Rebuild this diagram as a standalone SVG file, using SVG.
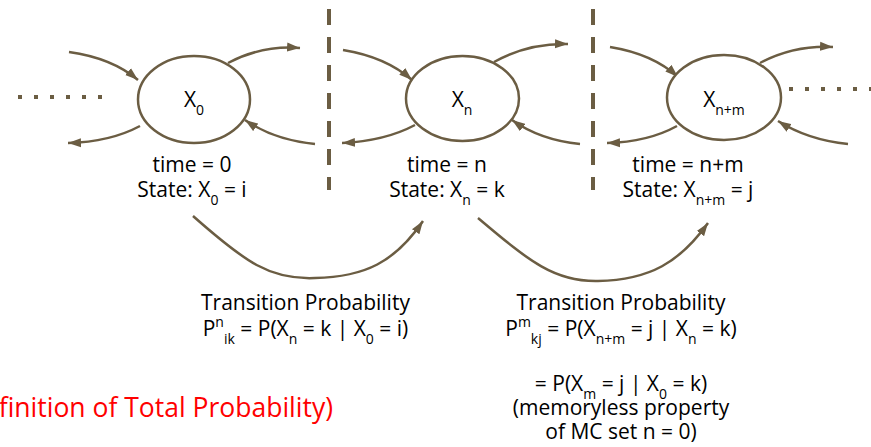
<svg xmlns="http://www.w3.org/2000/svg" width="871" height="447" viewBox="0 0 871 447">
<defs>
<marker id="ah" markerUnits="userSpaceOnUse" markerWidth="14" markerHeight="10" refX="13" refY="5" orient="auto">
<path d="M0,0.5 L13,5 L0,9.5 z" fill="#6b5d43"/>
</marker>
<style>
.ln{fill:none;stroke:#6b5d43;stroke-width:2.5}
.ar{fill:none;stroke:#6b5d43;stroke-width:2.5;marker-end:url(#ah)}
.nd{fill:#fff;stroke:#6b5d43;stroke-width:2.5}
.dash{fill:none;stroke:#6b5d43;stroke-width:4;stroke-dasharray:16 12}
.dot{fill:none;stroke:#6b5d43;stroke-width:4;stroke-dasharray:4 12}
text{font-family:"Open Sans","Noto Sans","Liberation Sans",sans-serif;font-size:21px;fill:#000;text-anchor:middle}
.s{font-size:14px}
.red{fill:#ff0000;font-size:26.5px;text-anchor:end}
</style>
</defs>
<rect width="871" height="447" fill="#fff"/>

<g id="separators">
<path class="dash" d="M329,9 V190"/>
<path class="dash" d="M593,9 V190"/>
<path class="dot" d="M18,97 H106"/>
<path class="dot" d="M789,89 H875"/>
</g>

<g id="connectors">
<path class="ar" d="M69,52 Q112,58 138,80"/>
<path class="ar" d="M228,63 Q262,45 300,48"/>
<path class="ar" d="M140,126 Q110,142 68,143"/>
<path class="ar" d="M315,144 Q274,140 245,120"/>

<path class="ar" d="M343,50 Q386,57 412,80"/>
<path class="ar" d="M494,62 Q528,43 568,44"/>
<path class="ar" d="M415,125 Q385,141 342,143"/>
<path class="ar" d="M580,144 Q540,140 512,120"/>

<path class="ar" d="M610,47 Q653,54 678,77"/>
<path class="ar" d="M760,63 Q794,45 833,47"/>
<path class="ar" d="M677,126 Q648,142 607,143"/>
<path class="ar" d="M848,144 Q808,140 778,121"/>

<path class="ar" d="M193,216 C245,262 270,280 315,278 C365,277 395,262 423,221"/>
<path class="ar" d="M478,218 C530,262 555,282 598,281 C650,280 680,262 708,223"/>
</g>

<g id="node-x0">
<ellipse class="nd" cx="194" cy="99.5" rx="56" ry="43.5"/>
<text x="194" y="107">X<tspan class="s" dy="8">0</tspan></text>
<text x="192" y="172">time = 0</text>
<text x="192" y="197">State: X<tspan class="s" dy="8">0</tspan><tspan dy="-8"> = i</tspan></text>
</g>

<g id="node-xn">
<ellipse class="nd" cx="462.5" cy="98.5" rx="56.5" ry="42.5"/>
<text x="462" y="107">X<tspan class="s" dy="8">n</tspan></text>
<text x="447" y="172">time = n</text>
<text x="447" y="197">State: X<tspan class="s" dy="8">n</tspan><tspan dy="-8"> = k</tspan></text>
</g>

<g id="node-xnm">
<ellipse class="nd" cx="724" cy="97.5" rx="57" ry="42.5"/>
<text x="724" y="107">X<tspan class="s" dy="8">n+m</tspan></text>
<text x="688" y="172">time = n+m</text>
<text x="688" y="197">State: X<tspan class="s" dy="8">n+m</tspan><tspan dy="-8"> = j</tspan></text>
</g>

<g id="label-pn">
<text x="305.5" y="310">Transition Probability</text>
<text x="305.5" y="336">P<tspan class="s" dy="-9">n</tspan><tspan class="s" dy="17">ik</tspan><tspan dy="-8"> = P(X</tspan><tspan class="s" dy="8">n</tspan><tspan dy="-8"> = k | X</tspan><tspan class="s" dy="8">0</tspan><tspan dy="-8"> = i)</tspan></text>
</g>

<g id="label-pm">
<text x="621" y="310">Transition Probability</text>
<text x="621" y="336">P<tspan class="s" dy="-9">m</tspan><tspan class="s" dy="17">kj</tspan><tspan dy="-8"> = P(X</tspan><tspan class="s" dy="8">n+m</tspan><tspan dy="-8"> = j | X</tspan><tspan class="s" dy="8">n</tspan><tspan dy="-8"> = k)</tspan></text>
<text x="621" y="391">= P(X<tspan class="s" dy="8">m</tspan><tspan dy="-8"> = j | X</tspan><tspan class="s" dy="8">0</tspan><tspan dy="-8"> = k)</tspan></text>
<text x="621" y="415">(memoryless property</text>
<text x="621" y="439">of MC set n = 0)</text>
</g>

<g id="label-red">
<text class="red" x="333" y="417">finition of Total Probability)</text>
</g>
</svg>
